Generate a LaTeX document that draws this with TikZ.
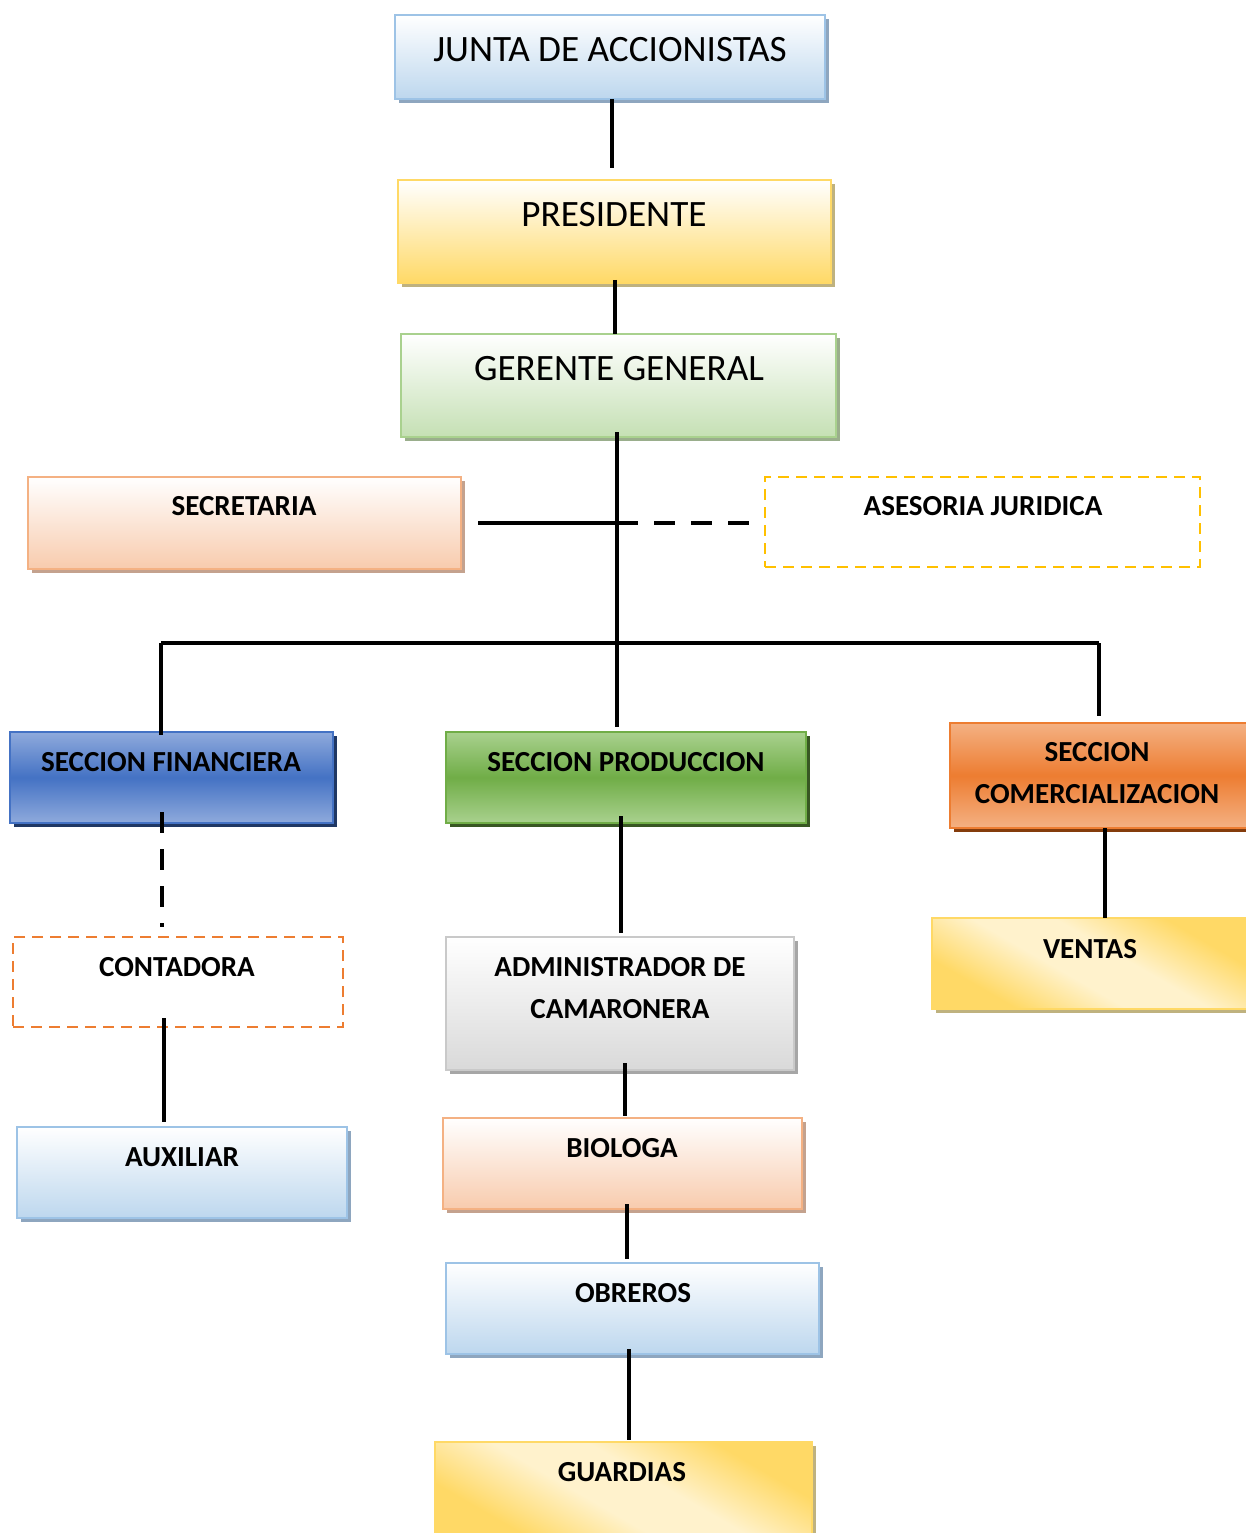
\documentclass[tikz,border=0pt]{standalone}
\usepackage{fontspec}
\setmainfont{Carlito}
\usetikzlibrary{fit,shadows,calc}
\definecolor{bluB}{HTML}{9DC3E6}\definecolor{bluF}{HTML}{BDD7EE}\definecolor{bluS}{HTML}{8EA6BF}
\definecolor{yelB}{HTML}{FFD966}\definecolor{yelF}{HTML}{FFD966}\definecolor{yelS}{HTML}{BFB27F}
\definecolor{yelL}{HTML}{FFF2CC}
\definecolor{grnB}{HTML}{A9D18E}\definecolor{grnF}{HTML}{C5E0B4}\definecolor{grnS}{HTML}{9AAE8C}
\definecolor{pchB}{HTML}{F4B183}\definecolor{pchF}{HTML}{F8CBAD}\definecolor{pchS}{HTML}{C4A28E}
\definecolor{finB}{HTML}{4472C4}\definecolor{finL}{HTML}{8FAADC}\definecolor{finS}{HTML}{203864}
\definecolor{proB}{HTML}{70AD47}\definecolor{proL}{HTML}{A9D18E}\definecolor{proS}{HTML}{385723}
\definecolor{comB}{HTML}{ED7D31}\definecolor{comL}{HTML}{F4B183}\definecolor{comS}{HTML}{843C0C}
\definecolor{gryB}{HTML}{C9C9C9}\definecolor{gryF}{HTML}{D9D9D9}\definecolor{gryS}{HTML}{A6A6A6}
\definecolor{ascY}{HTML}{FFC000}
\pgfdeclarehorizontalshading{diagyel}{100bp}{color(0bp)=(yelF); color(28bp)=(yelF); color(44bp)=(yelL); color(56bp)=(yelL); color(72bp)=(yelF); color(100bp)=(yelF)}
\begin{document}
\begin{tikzpicture}[x=0.75pt,y=-0.75pt,
  box/.style={rectangle,inner sep=0pt,outer sep=0pt,line width=1.5pt},
  shd/.style={drop shadow={shadow xshift=3.2pt,shadow yshift=-3.2pt,fill=#1,opacity=1}},
  bluebox/.style={box,draw=bluB,top color=white,bottom color=bluF,shd=bluS},
  yelbox/.style={box,draw=yelB,top color=white,bottom color=yelF,shd=yelS},
  grnbox/.style={box,draw=grnB,top color=white,bottom color=grnF,shd=grnS},
  pchbox/.style={box,draw=pchB,top color=white,bottom color=pchF,shd=pchS},
  grybox/.style={box,draw=gryB,top color=white,bottom color=gryF,shd=gryS},
  finbox/.style={box,draw=finB,top color=finL,bottom color=finL,middle color=finB,shd=finS},
  probox/.style={box,draw=proB,top color=proL,bottom color=proL,middle color=proB,shd=proS},
  combox/.style={box,draw=comB,top color=comL,bottom color=comL,middle color=comB,shd=comS},
  diagbox/.style={box,draw=yelB,shading=diagyel,shading angle=60,shd=yelS},
  dashbox/.style={box,draw=#1,line width=1.9pt,dash pattern=on 8pt off 5.5pt,fill=white},
  reg/.style={font=\fontsize{27.9}{33}\selectfont,inner sep=0pt},
  bld/.style={font=\fontsize{21.8}{31.5}\selectfont\bfseries,inner sep=0pt,align=center},
  con/.style={line width=3pt},
  dcon/.style={line width=3pt,dash pattern=on 15.75pt off 12pt}]
\useasboundingbox (0,0) rectangle (1245,1533);
% boxes
\node[bluebox,fit={(395,15) (825,99)}] (junta) {};
\node[yelbox,fit={(398,180) (831,283)}] (pres) {};
\node[grnbox,fit={(401,334) (836,437)}] (ger) {};
\node[pchbox,fit={(28,477) (461,569)}] (secr) {};
\node[dashbox=ascY,fit={(765,477) (1200,567)}] (ases) {};
\node[finbox,fit={(10,732) (333,823)}] (fin) {};
\node[probox,fit={(446,732) (806,823)}] (prod) {};
\node[combox,fit={(950,723) (1250,828)}] (com) {};
\node[dashbox=comB,fit={(13,937) (343,1027)}] (cont) {};
\node[grybox,fit={(446,937) (794,1070)}] (adm) {};
\node[diagbox,fit={(932,918) (1250,1009)}] (vent) {};
\node[bluebox,fit={(17,1127) (347,1218)}] (aux) {};
\node[pchbox,fit={(443,1118) (802,1209)}] (bio) {};
\node[bluebox,fit={(446,1263) (819,1354)}] (obr) {};
\node[diagbox,fit={(435,1442) (812,1540)}] (guar) {};
% texts
\node[reg] (juntaT) at (610,50) {JUNTA DE ACCIONISTAS};
\node[reg] (presT) at (614,215) {PRESIDENTE};
\node[reg] (gerT) at (619,369) {GERENTE GENERAL};
\node[bld] (secrT) at (244,506) {SECRETARIA};
\node[bld] (asesT) at (983,506) {ASESORIA JURIDICA};
\node[bld] (finT) at (171,762) {SECCION FINANCIERA};
\node[bld] (prodT) at (626,762) {SECCION PRODUCCION};
\node[bld] (comT) at (1097,773) {SECCION\\COMERCIALIZACION};
\node[bld] (contT) at (177,967) {CONTADORA};
\node[bld] (admT) at (620,988) {ADMINISTRADOR DE\\CAMARONERA};
\node[bld] (ventT) at (1090,949) {VENTAS};
\node[bld] (auxT) at (182,1157) {AUXILIAR};
\node[bld] (bioT) at (622,1148) {BIOLOGA};
\node[bld] (obrT) at (633,1293) {OBREROS};
\node[bld] (guarT) at (622,1472) {GUARDIAS};
% connectors
\coordinate (gtop) at (617,432);
\coordinate (busL) at (161,643);
\coordinate (busR) at (1099,643);
\draw[con] (junta.south -| 612,0) -- ($(pres.north -| 612,0)+(0,-12)$);
\draw[con] ($(pres.south -| 615,0)+(0,-3)$) -- (ger.north -| 615,0);
\draw[con] (gtop) -- ($(prod.north -| gtop)+(0,-5)$);
\draw[con] ($(secr.east)+(17,0)$) -- (secr.east -| gtop);
\draw[dcon] (secr.east -| gtop) -- ($(ases.west |- secr.east)+(-15,0)$);
\draw[con] (busL) -- (busR);
\draw[con] (busL) -- ($(fin.north -| busL)+(0,3)$);
\draw[con] (busR) -- ($(com.north -| busR)+(0,-7)$);
\draw[dcon] ($(fin.south -| 162,0)+(0,-11)$) -- ($(cont.north -| 162,0)+(0,-10)$);
\draw[con] ($(prod.south -| 621,0)+(0,-7)$) -- ($(adm.north -| 621,0)+(0,-4)$);
\draw[con] (com.south -| 1105,0) -- (vent.north -| 1105,0);
\draw[con] ($(cont.south -| 164,0)+(0,-9)$) -- ($(aux.north -| 164,0)+(0,-5)$);
\draw[con] ($(adm.south -| 625,0)+(0,-7)$) -- ($(bio.north -| 625,0)+(0,-2)$);
\draw[con] ($(bio.south -| 627,0)+(0,-5)$) -- ($(obr.north -| 627,0)+(0,-4)$);
\draw[con] ($(obr.south -| 629,0)+(0,-5)$) -- ($(guar.north -| 629,0)+(0,-2)$);
\end{tikzpicture}
\end{document}
